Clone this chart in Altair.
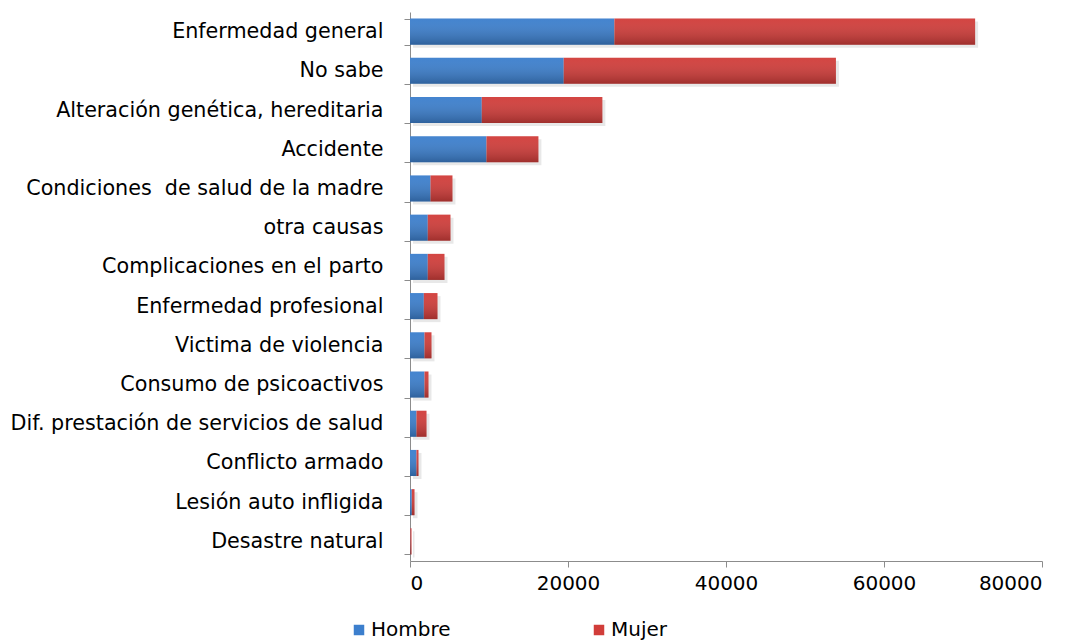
import altair as alt
import pandas as pd

# Causas de la discapacidad, por sexo
categorias = [
    "Enfermedad general",
    "No sabe",
    "Alteración genética, hereditaria",
    "Accidente",
    "Condiciones\u00a0 de salud de la madre",
    "otra causas",
    "Complicaciones en el parto",
    "Enfermedad profesional",
    "Victima de violencia",
    "Consumo de psicoactivos",
    "Dif. prestación de servicios de salud",
    "Conflicto armado",
    "Lesión auto infligida",
    "Desastre natural",
]
hombre = [25870, 19460, 9085, 9680, 2595, 2250, 2250, 1750, 1835, 1835, 820, 820, 230, 40]
mujer = [45665, 34455, 15265, 6575, 2780, 2875, 2115, 1730, 885, 505, 1270, 255, 340, 150]
series = ["Hombre", "Mujer"]
colores = ["#3c7fcd", "#d13d3a"]
ticks_x = [0, 20000, 40000, 60000, 80000]

FONT = "DejaVu Sans"
GRIS = "#8c8c8c"

long_df = pd.DataFrame(
    {
        "categoria": categorias * 2,
        "sexo": ["Hombre"] * len(categorias) + ["Mujer"] * len(categorias),
        "valor": hombre + mujer,
        "orden": [0] * len(categorias) + [1] * len(categorias),
    }
)
wide_df = pd.DataFrame({"categoria": categorias, "Hombre": hombre, "Mujer": mujer})

y_enc = alt.Y(
    "categoria:N",
    sort=categorias,
    title=None,
    scale=alt.Scale(paddingInner=0.335, paddingOuter=0.1675),
    axis=alt.Axis(
        labelFont=FONT,
        labelFontSize=20.7,
        labelColor="#000000",
        labelPadding=21,
        labelLimit=600,
        tickSize=6,
        tickColor=GRIS,
        domainColor=GRIS,
        tickBand="extent",
    ),
)

x_scale = alt.Scale(domain=[0, 80000], nice=False)
x_axis = alt.Axis(
    values=ticks_x,
    format="d",
    grid=False,
    labelFont=FONT,
    labelFontSize=20,
    labelColor="#000000",
    labelPadding=6,
    tickSize=6,
    tickColor=GRIS,
    domainColor=GRIS,
)

# soft drop shadow under each full bar
sombra = (
    alt.Chart(wide_df)
    .transform_calculate(total="datum.Hombre + datum.Mujer")
    .mark_bar(color="#000000", opacity=0.09, xOffset=3, yOffset=3)
    .encode(x=alt.X("total:Q", scale=x_scale, axis=x_axis, title=None), y=y_enc)
)

barras = (
    alt.Chart(long_df)
    .mark_bar()
    .encode(
        x=alt.X("valor:Q", stack="zero", scale=x_scale, axis=x_axis, title=None),
        y=y_enc,
        color=alt.Color(
            "sexo:N",
            scale=alt.Scale(domain=series, range=colores),
            legend=alt.Legend(
                title=None,
                orient="none",
                legendX=-61,
                legendY=608,
                direction="horizontal",
                columns=2,
                columnPadding=138,
                padding=0,
                labelFont=FONT,
                labelFontSize=20,
                labelColor="#000000",
                labelOffset=2,
                symbolType="square",
                symbolSize=110,
                symbolStrokeWidth=0,
            ),
        ),
        order=alt.Order("orden:Q"),
    )
)

# vertical shading that darkens each bar toward its bottom edge
sombreado = alt.Gradient(
    gradient="linear",
    x1=0,
    x2=0,
    y1=0,
    y2=1,
    stops=[
        alt.GradientStop(color="rgba(255,255,255,0.04)", offset=0),
        alt.GradientStop(color="rgba(0,0,0,0.24)", offset=1),
    ],
)
brillo = (
    alt.Chart(wide_df)
    .transform_calculate(total="datum.Hombre + datum.Mujer")
    .mark_bar(fill=sombreado)
    .encode(x=alt.X("total:Q", scale=x_scale, axis=x_axis, title=None), y=y_enc)
)

chart = (
    alt.layer(sombra, barras, brillo)
    .properties(
        width=632,
        height=549,
        padding={"left": 410, "top": 12, "right": 34, "bottom": 80},
        autosize=alt.AutoSizeParams(type="none"),
        background="#ffffff",
    )
    .configure_view(stroke=None)
)

chart.save("out.html", embed_options={"renderer": "svg", "actions": False})
